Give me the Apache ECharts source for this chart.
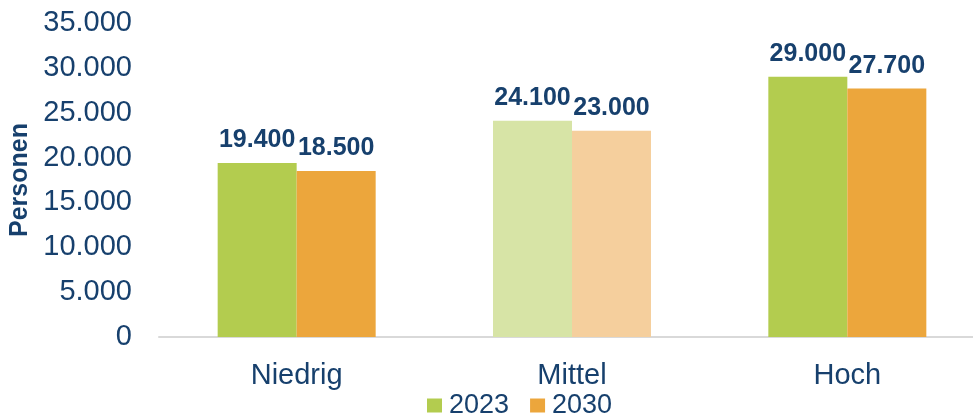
<!DOCTYPE html>
<html><head><meta charset="utf-8">
<script src="https://cdn.jsdelivr.net/npm/echarts@6/dist/echarts.min.js"></script>
<style>html,body{margin:0;padding:0;background:#fff}#c{width:973px;height:420px}</style>
</head><body><div id="c"></div>
<script>
const categories = ['Niedrig', 'Mittel', 'Hoch'];
const values2023 = [19400, 24100, 29000];
const values2030 = [18500, 23000, 27700];
const seriesNames = ['2023', '2030'];
const yTicks = [0, 5000, 10000, 15000, 20000, 25000, 30000, 35000];

const TXT = '#17406d';
const FONT = '"Liberation Sans", Arial, sans-serif';
function fmt(v) { return String(Math.round(v)).replace(/\B(?=(\d{3})+(?!\d))/g, '.'); }

const green = '#b3cc4f', greenLight = '#d7e4a6';
const orange = '#eca63c', orangeLight = '#f5cf9d';

function mk(vals, base, light) {
  return vals.map((v, i) => ({ value: v, itemStyle: { color: i === 1 ? light : base } }));
}

const chart = echarts.init(document.getElementById('c'), null, { renderer: 'canvas' });
chart.setOption({
  animation: false,
  textStyle: { fontFamily: FONT },
  grid: { left: 159, top: 23, width: 826, bottom: 83, containLabel: false, outerBoundsMode: 'none' },
  legend: {
    data: [{ name: seriesNames[0], itemStyle: { color: green } }, { name: seriesNames[1], itemStyle: { color: orange } }],
    left: 427, top: 392, padding: 0, itemWidth: 15, itemHeight: 14, itemGap: 21,
    icon: 'rect',
    textStyle: { color: TXT, fontSize: 27, fontFamily: FONT, padding: [0, 0, 0, 2] }
  },
  xAxis: {
    type: 'category', data: categories,
    axisLine: { lineStyle: { color: '#d9d9d9', width: 2 } },
    axisTick: { show: false },
    axisLabel: { color: TXT, fontSize: 29, margin: 24, fontFamily: FONT }
  },
  yAxis: {
    type: 'value', min: yTicks[0], max: yTicks[yTicks.length - 1], interval: 5000,
    name: 'Personen', nameLocation: 'middle', nameGap: 124,
    nameTextStyle: { color: TXT, fontSize: 25, fontWeight: 'bold', fontFamily: FONT },
    axisLine: { show: false }, axisTick: { show: false }, splitLine: { show: false },
    axisLabel: { color: TXT, fontSize: 29, margin: 27, fontFamily: FONT, formatter: fmt }
  },
  series: [
    { name: seriesNames[0], type: 'bar', data: mk(values2023, green, greenLight), barWidth: 79, barGap: '0%',
      itemStyle: { color: green },
      label: { show: true, position: 'top', distance: 10, color: TXT, fontSize: 25, fontWeight: 'bold', fontFamily: FONT, formatter: p => fmt(p.value) } },
    { name: seriesNames[1], type: 'bar', data: mk(values2030, orange, orangeLight), barWidth: 79, barGap: '0%',
      itemStyle: { color: orange },
      label: { show: true, position: 'top', distance: 10, color: TXT, fontSize: 25, fontWeight: 'bold', fontFamily: FONT, formatter: p => fmt(p.value) } }
  ]
});
</script></body></html>
